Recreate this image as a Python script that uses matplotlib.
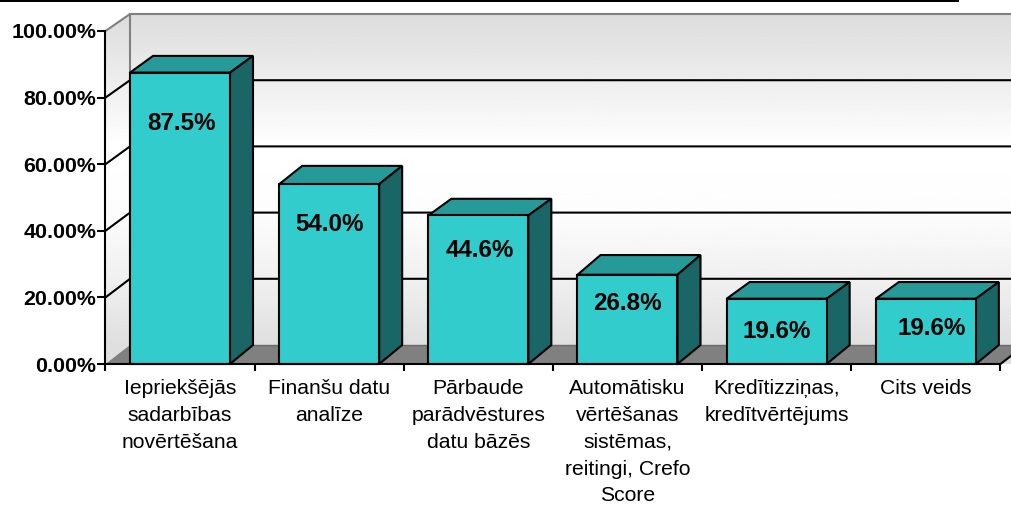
import numpy as np
import matplotlib
matplotlib.use("Agg")
import matplotlib.pyplot as plt
from matplotlib.patches import Polygon, Rectangle

# --- data ---
categories = [
    "Iepriekšējās\nsadarbības\nnovērtēšana",
    "Finanšu datu\nanalīze",
    "Pārbaude\nparādvēstures\ndatu bāzēs",
    "Automātisku\nvērtēšanas\nsistēmas,\nreitingi, Crefo\nScore",
    "Kredītizziņas,\nkredītvērtējums",
    "Cits veids",
]
values = [87.5, 54.0, 44.6, 26.8, 19.6, 19.6]
value_labels = ["87.5%", "54.0%", "44.6%", "26.8%", "19.6%", "19.6%"]
y_ticks = [0, 20, 40, 60, 80, 100]
y_tick_labels = ["0.00%", "20.00%", "40.00%", "60.00%", "80.00%", "100.00%"]

# --- layout / style ---
W, H = 1012, 505
AX_L, AX_R, AX_B, AX_T = 105.5, 1000.5, 364.0, 31.0
PX_X = (AX_R - AX_L) / 6
PX_Y = (AX_B - AX_T) / 100
DEPTH_X = 24.5 / PX_X
BAR_DEPTH_X = 23.0 / PX_X
BAR_W = 100.0 / PX_X
BACK_Y0 = 19.0 / PX_Y
BACK_TOP = 100 + 17.0 / PX_Y
BAR_BASE_DEPTH = 19.0 / PX_Y
bar_top_depth_px = [16.7, 18.3, 16.7, 19.7, 16.7, 16.7]
label_x_shift = [0.008, 0.003, 0.012, 0.0, 0.0, 0.04]
label_y_pos = [72.1, 42.0, 34.2, 18.3, 9.9, 10.8]
FRONT, TOP, SIDE = "#33CCCC", "#269999", "#1A6666"
EDGE_LW = 1.5
FONT = "Liberation Sans"


def back_y(t):
    return BACK_Y0 + t * (BACK_TOP - BACK_Y0) / 100


fig = plt.figure(figsize=(W / 100, H / 100), dpi=100, facecolor="white")
ax = fig.add_axes([AX_L / W, 1 - AX_B / H, (AX_R - AX_L) / W, (AX_B - AX_T) / H])
ax.patch.set_visible(False)
XR = 6 + DEPTH_X

# walls with vertical gradient
stops_y = np.array([0, 5.7, 25, 45, 65, 85, BACK_TOP])
stops_c = np.array([0.87, 0.875, 0.94, 0.99, 1.0, 0.93, 0.865])
yy = np.linspace(0, BACK_TOP, 256)
grad = np.interp(yy, stops_y, stops_c).reshape(-1, 1)
im = ax.imshow(grad, origin="lower", extent=(0, XR, 0, BACK_TOP), aspect="auto",
               cmap="gray", vmin=0, vmax=1, zorder=1)
wall = Polygon([(0, 0), (0, 100), (DEPTH_X, BACK_TOP), (XR, BACK_TOP), (XR, 0)],
               transform=ax.transData, fc="none", ec="none")
ax.add_patch(wall)
ax.set_xlim(0, 6)
ax.set_ylim(0, 100)
im.set_clip_path(wall)
im.set_clip_box(fig.bbox)

# floor
ax.add_patch(Polygon([(0, 0), (DEPTH_X, BACK_Y0), (XR, BACK_Y0), (6, 0)], fc="#808080", ec="none",
                     zorder=2, clip_on=False))
ax.plot([DEPTH_X, XR], [BACK_Y0, BACK_Y0], color="#6a6a6a", lw=1.0, zorder=2.1, clip_on=False)
ax.plot([6, XR], [0, BACK_Y0], color="black", lw=EDGE_LW, zorder=2.2, clip_on=False)

# gridlines: side wall + back wall
for t in y_ticks[1:]:
    c = "#808080" if t == 100 else "black"
    ax.plot([0, DEPTH_X, XR], [t, back_y(t), back_y(t)], color=c, lw=EDGE_LW,
            zorder=3, clip_on=False, solid_joinstyle="miter")
ax.plot([DEPTH_X, DEPTH_X], [BACK_Y0, BACK_TOP], color="#808080", lw=EDGE_LW, zorder=3, clip_on=False)

# bars
for i, v in enumerate(values):
    x0 = i + DEPTH_X
    x1 = x0 + BAR_W
    dt = bar_top_depth_px[i] / PX_Y
    kw = dict(ec="black", lw=EDGE_LW, zorder=5, joinstyle="miter", clip_on=False)
    ax.add_patch(Polygon([(x0, v), (x1, v), (x1 + BAR_DEPTH_X, v + dt), (x0 + BAR_DEPTH_X, v + dt)], fc=TOP, **kw))
    ax.add_patch(Polygon([(x1, 0), (x1 + BAR_DEPTH_X, BAR_BASE_DEPTH), (x1 + BAR_DEPTH_X, v + dt), (x1, v)], fc=SIDE, **kw))
    ax.add_patch(Polygon([(x0, 0), (x1, 0), (x1, v), (x0, v)], fc=FRONT, **kw))
    ax.text((x0 + x1) / 2 + label_x_shift[i], label_y_pos[i], value_labels[i], ha="center", va="center",
            family=FONT, fontweight="bold", fontsize=17.4, color="black", zorder=6)

# axes furniture
for s in ("top", "right"):
    ax.spines[s].set_visible(False)
for s in ("left", "bottom"):
    ax.spines[s].set_linewidth(EDGE_LW)
    ax.spines[s].set_zorder(7)
ax.set_yticks(y_ticks)
ax.set_yticklabels(y_tick_labels, family=FONT, fontweight="bold", fontsize=15.4, color="black")
ax.tick_params(axis="y", length=6, width=EDGE_LW, pad=0.5)
ax.set_xticks(range(7))
ax.set_xticklabels([])
ax.tick_params(axis="x", which="major", length=5, width=EDGE_LW)
ax.set_xticks(np.arange(6) + 0.5, minor=True)
ax.set_xticklabels(categories, minor=True, family=FONT, fontsize=15.2, color="black", linespacing=1.52)
ax.tick_params(axis="x", which="minor", length=0, pad=11)

# black band at the very top of the image
fig.add_artist(Rectangle((0, 1 - 2 / H), 959 / W, 2 / H, transform=fig.transFigure, fc="black", ec="none"))

fig.savefig("out.png", dpi=100)
